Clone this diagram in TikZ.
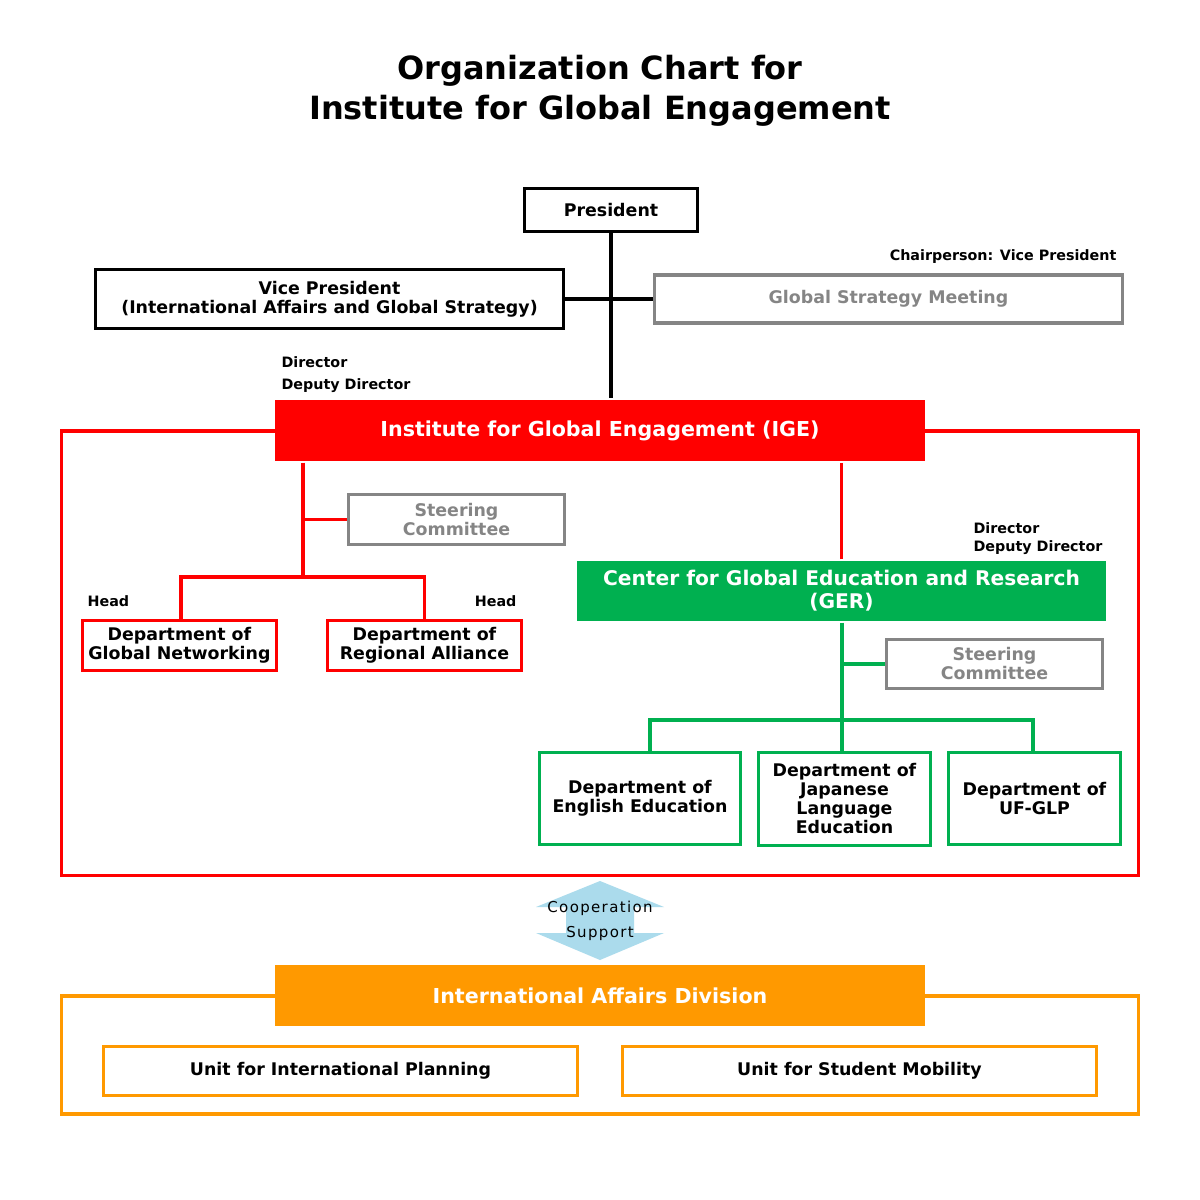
\documentclass[tikz,border=0pt]{standalone}
\usepackage{fontspec}
\setmainfont{DejaVu Sans}
\newfontfamily\spacedfont[LetterSpace=9]{DejaVu Sans}
\usetikzlibrary{calc}

\definecolor{igered}{HTML}{FF0000}
\definecolor{gergreen}{HTML}{00B050}
\definecolor{iadorange}{HTML}{FF9900}
\definecolor{scgray}{HTML}{858585}
\definecolor{arrowblue}{HTML}{ABDBEC}

\begin{document}
\begin{tikzpicture}[x=1pt,y=-1pt,line width=3.2pt,
                box/.style={draw,inner sep=0pt,align=center,font=\bfseries\fontsize{17.4}{19}\selectfont},
                blackbox/.style={box,black},
                graybox/.style={box,scgray,text=scgray},
                redbox/.style={box,igered,text=black},
                greenbox/.style={box,gergreen,text=black},
                orangebox/.style={box,iadorange,text=black},
                headbox/.style={inner sep=0pt,align=center,text=white,font=\bfseries\fontsize{20.6}{23}\selectfont},
                tag/.style={inner sep=0pt,align=left,font=\bfseries\fontsize{14.3}{22}\selectfont}]
	\useasboundingbox (0,0) rectangle (1200,1200);
	\fill[white] (0,0) rectangle (1200,1200);

	% title
	\node[inner sep=0pt,align=center,font=\bfseries\fontsize{32}{40}\selectfont] (title) at (600,91)
		{Organization Chart for\\Institute for Global Engagement};

	% top level
	\node[blackbox,minimum width=173,minimum height=43] (pres) at (611,210) {President};
	\node[blackbox,minimum width=468,minimum height=59] (vp) at (329.5,299)
		{Vice President\\(International Affairs and Global Strategy)};
	\node[graybox,minimum width=468,minimum height=48] (gsm) at (888.5,299) {Global Strategy Meeting};
	\node[tag,anchor=east] (chair) at (1118,257) {Chairperson: Vice President};

	% outer frames
	\draw[igered] (61.5,431) rectangle (1138.5,875.5);
	\draw[iadorange] (61.5,996) rectangle (1138.5,1114);

	% IGE
	\node[headbox,fill=igered,minimum width=650,minimum height=61] (ige) at (600,430.5)
		{Institute for Global Engagement (IGE)};
	\node[tag,anchor=north west] (igedir) at (280,355) {Director\\Deputy Director};
	\node[graybox,minimum width=216,minimum height=50] (sc1) at (456.5,519.5) {Steering\\Committee};
	\node[redbox,minimum width=194,minimum height=50] (dgn) at (179.5,645.5) {Department of\\Global Networking};
	\node[redbox,minimum width=194,minimum height=50] (dra) at (424.5,645.5) {Department of\\Regional Alliance};
	\node[tag,anchor=west] (head1) at (86,601) {Head};
	\node[tag,anchor=east] (head2) at (518,601) {Head};

	% GER
	\node[headbox,fill=gergreen,minimum width=529,minimum height=60,font=\bfseries\fontsize{20.2}{23}\selectfont] (ger) at (841.5,591)
		{Center for Global Education and Research\\(GER)};
	\node[tag,anchor=north west,font=\bfseries\fontsize{14.3}{18}\selectfont] (gerdir) at (972,521)
		{Director\\Deputy Director};
	\node[graybox,minimum width=216,minimum height=49] (sc2) at (994.5,664) {Steering\\Committee};
	\node[greenbox,minimum width=201,minimum height=92] (dee) at (640,798.5) {Department of\\English Education};
	\node[greenbox,minimum width=172,minimum height=93] (djl) at (844.5,799) {Department of\\Japanese\\Language\\Education};
	\node[greenbox,minimum width=172,minimum height=92] (duf) at (1034.5,798.5) {Department of\\UF-GLP};

	% IAD
	\node[headbox,fill=iadorange,minimum width=650,minimum height=61] (iad) at (600,995.5)
		{International Affairs Division};
	\node[orangebox,minimum width=474,minimum height=49] (uip) at (340.5,1071) {Unit for International Planning};
	\node[orangebox,minimum width=474,minimum height=49] (usm) at (859.5,1071) {Unit for Student Mobility};

	% junctions
	\coordinate (rj) at (303,577);
	\coordinate (gj) at (842,720);

	% connectors
	\draw[black] (pres.south) -- (pres.south |- ige.north);
	\draw[black] (vp.east) -- (gsm.west);
	\draw[igered] (rj |- ige.south) -- (rj);
	\draw[igered] (sc1.west) -- (sc1.west -| rj);
	\draw[igered] ([xshift=1.5pt]dgn.north) |- (rj) -| (dra.north);
	\draw[igered] (ger.north) -- (ger.north |- ige.south);
	\draw[gergreen] (gj |- ger.south) -- (gj |- djl.north);
	\draw[gergreen] (sc2.west) -- (sc2.west -| gj);
	\draw[gergreen] ([xshift=10pt]dee.north) |- (gj) -| ([xshift=-1.5pt]duf.north);

	% cooperation arrow
	\fill[arrowblue] (600,881) -- (664,907) -- (634,907) -- (634,933) -- (664,933) -- (600,960)
		-- (536,933) -- (566,933) -- (566,907) -- (536,907) -- cycle;
	\node[inner sep=0pt,align=center,font=\spacedfont\fontsize{15}{25}\selectfont] (coop) at (600,920.5)
		{Cooperation\\Support};
\end{tikzpicture}
\end{document}
